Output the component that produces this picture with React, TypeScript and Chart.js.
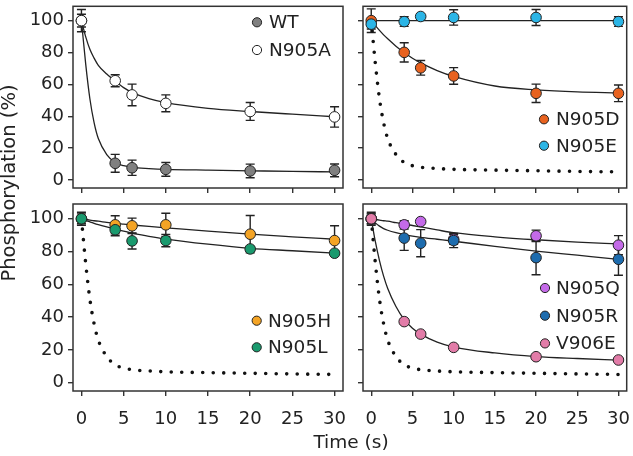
import React, { useEffect, useRef } from "react";
import { Chart, registerables } from "chart.js";

Chart.register(...registerables);

// ---------- data ----------
const times = [0, 4, 6, 10, 20, 30];
const xTicks = [0, 5, 10, 15, 20, 25, 30];
const yTicks = [0, 20, 40, 60, 80, 100];

const wt = [100, 10.5, 7.7, 6.7, 5.7, 6.1];
const wtErr = [4, 5.6, 4.8, 4.3, 4.3, 4];
const n905a = [100, 62.3, 53.4, 48.1, 43.0, 39.6];
const n905aErr = [7, 3.8, 6.8, 5.3, 5.6, 6.4];
const n905d = [100, 80.1, 70.4, 65.3, 54.4, 54.4];
const n905dErr = [7.4, 6, 4.6, 5.2, 5.8, 5.2];
const n905e = [97.8, 99.4, 102.6, 102, 102, 99.4];
const n905eErr = [3, 3, 1, 4.8, 5, 3];
const n905h = [100, 96.3, 95.7, 96.3, 90.6, 86.7];
const n905hErr = [3, 5.5, 4.7, 7.1, 11.4, 9];
const n905l = [100, 93.3, 86.5, 86.7, 81.6, 79];
const n905lErr = [4, 3.7, 4.9, 3.8, 1.5, 1.5];
const n905q = [100, 96.3, 98.3, 87.5, 89.6, 83.9];
const n905qErr = [3, 2.5, 1, 3, 3.5, 5.8];
const n905r = [100, 88.2, 85.1, 86.7, 76.3, 75.3];
const n905rErr = [3, 7.5, 8.3, 4.3, 10.4, 9.7];
const v906e = [100, 37.3, 29.7, 21.6, 15.9, 13.9];
const v906eErr = [4, 1, 1, 1, 1, 1];

// fitted curves
const fitT = [0, 0.5, 1, 1.5, 2, 3, 4, 5, 6, 8, 10, 15, 20, 25, 30];
const wtFit = [100, 73, 51, 36, 26, 16, 11, 9, 8, 7.2, 6.7, 6.2, 5.8, 5.4, 5.1];
const n905aFit = [100, 90, 82, 76.5, 72, 66.5, 62, 58, 55, 51, 48.5, 45, 43, 41.3, 39.7];
const n905dFit = [99, 96.8, 93.9, 91.1, 88.6, 84, 80, 76.4, 73.5, 68.7, 65, 59, 56.6, 55.3, 54.7];
const n905eFitT = [0, 30];
const n905eFit = [100, 100];
const n905hFit = [100, 99.6, 99.2, 98.8, 98.5, 97.8, 97.2, 96.7, 96.2, 95.3, 94.5, 92.5, 90.6, 89, 87.5];
const n905lFit = [100, 99, 98.1, 97.2, 96.4, 95, 93.7, 92.4, 91.3, 89.3, 87.6, 84.5, 82, 80.5, 79];
const n905qFit = [100, 99.6, 99.2, 98.8, 98.5, 97.6, 96.8, 95.9, 95, 93.2, 91.5, 89, 87.2, 85.8, 84.7];
const n905rFit = [100, 97.5, 95.5, 94, 93, 91.5, 90.3, 89.4, 88.7, 87.5, 86.3, 83.2, 80.3, 77.8, 75.3];
const v906eFit = [100, 86, 74.5, 65, 57.5, 46.5, 38.5, 33.3, 29.7, 24.8, 21.8, 18.2, 16, 14.8, 13.8];

// ---------- styling ----------
const FONT = "DejaVu Sans";
const INK = "#222";
const W = 633;
const H = 456;

type Series = {
  label: string;
  color: string;
  values: number[];
  errors: number[];
  fit: number[];
  fitT: number[];
};

type Panel = {
  area: { l: number; t: number; r: number; b: number };
  showX: boolean;
  showY: boolean;
  dotted: boolean;
  series: Series[];
  legend: { x: number; y: number; dy: number; tx: number };
  titles?: boolean;
};

const toPts = (xs: number[], ys: number[]) => xs.map((x, i) => ({ x, y: ys[i] }));

const panels: Panel[] = [
  {
    area: { l: 73, t: 1, r: 343, b: 188 },
    showX: false,
    showY: true,
    dotted: false,
    series: [
      { label: "WT", color: "#808080", values: wt, errors: wtErr, fit: wtFit, fitT },
      { label: "N905A", color: "#ffffff", values: n905a, errors: n905aErr, fit: n905aFit, fitT },
    ],
    legend: { x: 257, y: 22.3, dy: 27.7, tx: 269 },
  },
  {
    area: { l: 363, t: 1, r: 632, b: 188 },
    showX: false,
    showY: false,
    dotted: true,
    series: [
      { label: "N905D", color: "#e8621f", values: n905d, errors: n905dErr, fit: n905dFit, fitT },
      { label: "N905E", color: "#2bb5e6", values: n905e, errors: n905eErr, fit: n905eFit, fitT: n905eFitT },
    ],
    legend: { x: 544, y: 119.3, dy: 26.4, tx: 556 },
  },
  {
    area: { l: 73, t: 204, r: 343, b: 391 },
    showX: true,
    showY: true,
    dotted: true,
    series: [
      { label: "N905H", color: "#f4a425", values: n905h, errors: n905hErr, fit: n905hFit, fitT },
      { label: "N905L", color: "#1a9a6e", values: n905l, errors: n905lErr, fit: n905lFit, fitT },
    ],
    legend: { x: 256.7, y: 320.7, dy: 26.6, tx: 268 },
    titles: true,
  },
  {
    area: { l: 363, t: 204, r: 632, b: 391 },
    showX: true,
    showY: false,
    dotted: true,
    series: [
      { label: "N905Q", color: "#c46ae8", values: n905q, errors: n905qErr, fit: n905qFit, fitT },
      { label: "N905R", color: "#1d6cae", values: n905r, errors: n905rErr, fit: n905rFit, fitT },
      { label: "V906E", color: "#e27ca8", values: v906e, errors: v906eErr, fit: v906eFit, fitT },
    ],
    legend: { x: 545, y: 288, dy: 27.7, tx: 556 },
  },
];

const Y_AXIS_W = 50;
const X_AXIS_H = 40;

function buildConfig(p: Panel): any {
  const datasets: any[] = [];
  if (p.dotted) {
    datasets.push({
      type: "line",
      data: toPts(fitT, wtFit),
      showLine: true,
      pointRadius: 0,
      borderColor: "#111",
      borderWidth: 3.6,
      borderDash: [0, 10.5],
      borderCapStyle: "round",
      cubicInterpolationMode: "monotone",
      fill: false,
      order: 20,
    });
  }
  p.series.forEach((s) => {
    datasets.push({
      type: "line",
      data: toPts(s.fitT, s.fit),
      showLine: true,
      pointRadius: 0,
      borderColor: INK,
      borderWidth: 1.3,
      cubicInterpolationMode: "monotone",
      fill: false,
      order: 10,
    });
  });
  const n = p.series.length;
  p.series.forEach((s, i) => {
    datasets.push({
      type: "scatter",
      label: s.label,
      data: toPts(times, s.values),
      errors: s.errors,
      showLine: false,
      pointRadius: 5.3,
      pointBorderWidth: 1,
      pointBorderColor: INK,
      pointBackgroundColor: s.color,
      order: n - i,
    });
  });

  const errorBars = {
    id: "errorBars",
    beforeDatasetsDraw(chart: any) {
      const ctx = chart.ctx;
      const xs = chart.scales.x;
      const ys = chart.scales.y;
      ctx.save();
      ctx.strokeStyle = INK;
      ctx.lineWidth = 1.4;
      chart.data.datasets.forEach((ds: any) => {
        if (!ds.errors) return;
        ds.data.forEach((pt: any, i: number) => {
          const e = ds.errors[i];
          if (!e) return;
          const px = xs.getPixelForValue(pt.x);
          const top = ys.getPixelForValue(pt.y + e);
          const bot = ys.getPixelForValue(pt.y - e);
          ctx.beginPath();
          ctx.moveTo(px, top);
          ctx.lineTo(px, bot);
          ctx.moveTo(px - 4.5, top);
          ctx.lineTo(px + 4.5, top);
          ctx.moveTo(px - 4.5, bot);
          ctx.lineTo(px + 4.5, bot);
          ctx.stroke();
        });
      });
      ctx.restore();
    },
  };

  const frame = {
    id: "frame",
    afterDraw(chart: any) {
      const { left, top, right, bottom } = chart.chartArea;
      const ctx = chart.ctx;
      ctx.save();
      ctx.strokeStyle = "#333";
      ctx.lineWidth = 1.5;
      ctx.strokeRect(left, top, right - left, bottom - top);
      ctx.restore();
    },
  };

  const legendPlugin = {
    id: "panelLegend",
    afterDraw(chart: any) {
      const ctx = chart.ctx;
      ctx.save();
      ctx.font = `18.5px "${FONT}"`;
      ctx.textBaseline = "middle";
      ctx.textAlign = "left";
      p.series.forEach((s, i) => {
        const y = p.legend.y + i * p.legend.dy;
        ctx.beginPath();
        ctx.arc(p.legend.x, y, 4.6, 0, Math.PI * 2);
        ctx.fillStyle = s.color;
        ctx.fill();
        ctx.lineWidth = 1;
        ctx.strokeStyle = INK;
        ctx.stroke();
        ctx.fillStyle = INK;
        ctx.fillText(s.label, p.legend.tx, y + 1);
      });
      ctx.restore();
    },
  };

  const titlesPlugin = {
    id: "figTitles",
    afterDraw(chart: any) {
      if (!p.titles) return;
      const ctx = chart.ctx;
      ctx.save();
      ctx.fillStyle = INK;
      ctx.textAlign = "center";
      ctx.textBaseline = "alphabetic";
      ctx.font = `18.5px "${FONT}"`;
      ctx.fillText("Time (s)", 351, 448);
      ctx.translate(15, 183);
      ctx.rotate(-Math.PI / 2);
      ctx.font = `19.5px "${FONT}"`;
      ctx.fillText("Phosphorylation (%)", 0, 0);
      ctx.restore();
    },
  };

  const gridOpts = {
    display: true,
    drawOnChartArea: false,
    drawTicks: true,
    tickLength: 5,
    color: "#333",
    lineWidth: 1.4,
  };

  return {
    type: "scatter",
    data: { datasets },
    options: {
      animation: false,
      responsive: false,
      devicePixelRatio: 1,
      events: [],
      layout: {
        padding: {
          left: p.area.l - Y_AXIS_W,
          top: p.area.t,
          right: W - p.area.r,
          bottom: H - p.area.b - X_AXIS_H,
        },
      },
      plugins: { legend: { display: false }, tooltip: { enabled: false }, title: { display: false } },
      scales: {
        x: {
          type: "linear",
          position: "bottom",
          min: -1,
          max: 31,
          afterBuildTicks: (s: any) => {
            s.ticks = xTicks.map((v) => ({ value: v }));
          },
          afterFit: (s: any) => {
            s.height = X_AXIS_H;
            s.paddingLeft = 0;
            s.paddingRight = 0;
          },
          grid: gridOpts,
          border: { display: false },
          ticks: {
            display: p.showX,
            autoSkip: false,
            maxRotation: 0,
            padding: 13,
            color: INK,
            font: { family: FONT, size: 18 },
          },
        },
        y: {
          type: "linear",
          position: "left",
          min: -5,
          max: 109,
          afterBuildTicks: (s: any) => {
            s.ticks = yTicks.map((v) => ({ value: v }));
          },
          afterFit: (s: any) => {
            s.width = Y_AXIS_W;
            s.paddingTop = 0;
            s.paddingBottom = 0;
          },
          grid: gridOpts,
          border: { display: false },
          ticks: {
            display: p.showY,
            autoSkip: false,
            padding: 4,
            color: INK,
            font: { family: FONT, size: 18 },
          },
        },
      },
    },
    plugins: [errorBars, frame, legendPlugin, titlesPlugin],
  };
}

function PanelChart({ panel }: { panel: Panel }) {
  const ref = useRef<HTMLCanvasElement | null>(null);
  useEffect(() => {
    if (!ref.current) return;
    const chart = new Chart(ref.current, buildConfig(panel));
    return () => chart.destroy();
  }, [panel]);
  return (
    <canvas
      ref={ref}
      width={W}
      height={H}
      style={{ position: "absolute", left: 0, top: 0, width: W, height: H }}
    />
  );
}

export default function App() {
  return (
    <div
      style={{
        position: "absolute",
        left: 0,
        top: 0,
        width: W,
        height: H,
        background: "#ffffff",
        overflow: "hidden",
      }}
    >
      {panels.map((p, i) => (
        <PanelChart key={i} panel={p} />
      ))}
    </div>
  );
}
